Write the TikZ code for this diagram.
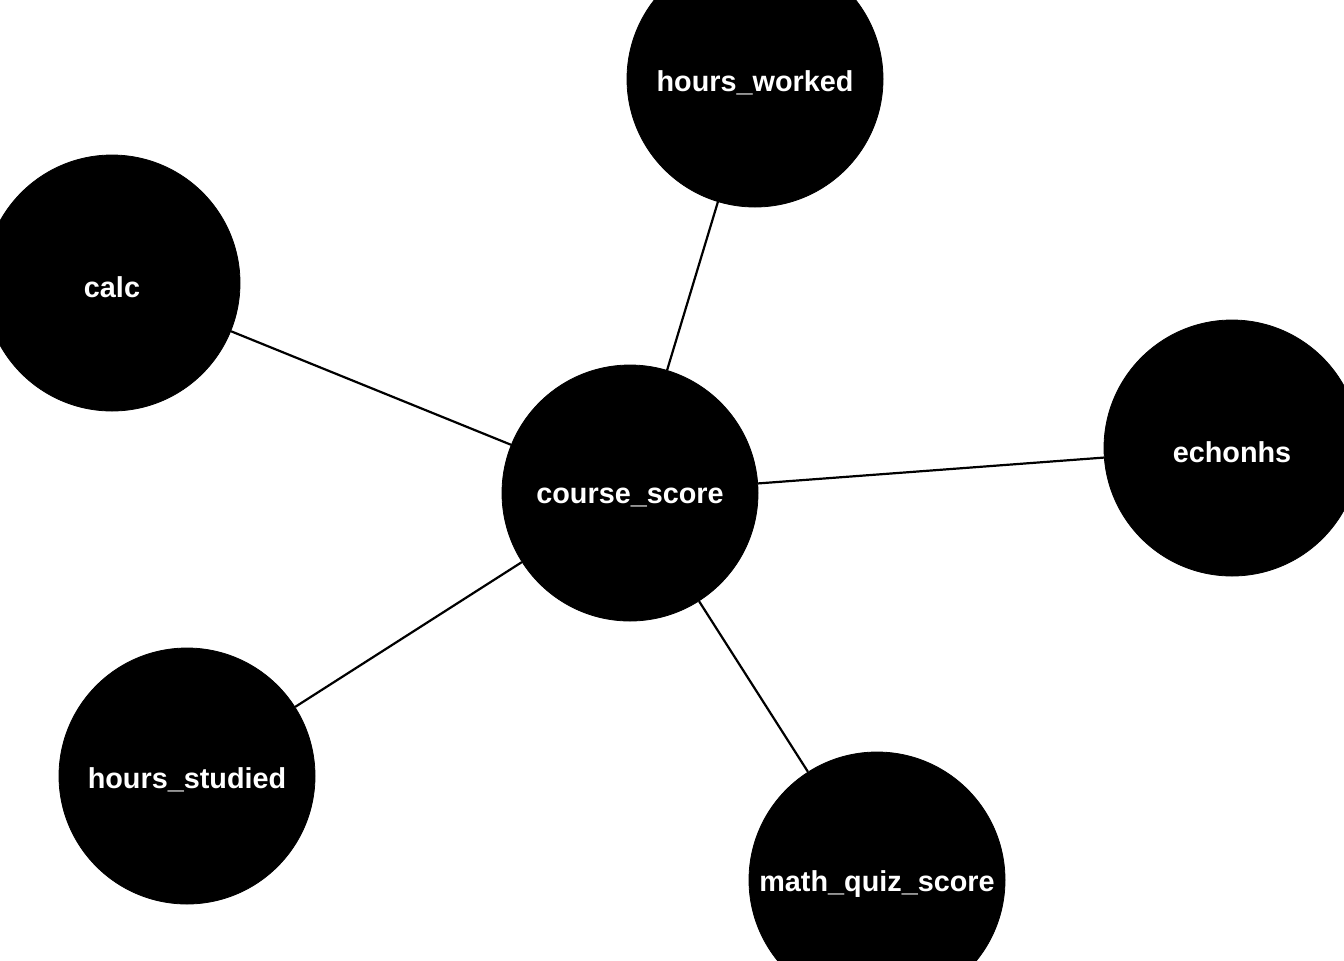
\documentclass[tikz,border=0pt]{standalone}
\usepackage{fontspec}
\setmainfont{Liberation Sans}
\begin{document}
\begin{tikzpicture}[x=0.5pt,y=-0.5pt,
  var/.style={circle,fill=black,draw=black,minimum size=128pt,inner sep=0pt},
  lbl/.style={text=white,inner sep=0pt,yshift=-2pt,font=\fontsize{14.4}{17}\selectfont\bfseries},
  edge/.style={draw=black,line width=1.1pt}]
\useasboundingbox (0,0) rectangle (1344,960);
\clip (0,0) rectangle (1344,960);
\node[var,label={[lbl]center:course\_score}] (cs) at (630,493) {};
\node[var,label={[lbl]center:hours\_worked}] (hw) at (755,79) {};
\node[var,label={[lbl]center:calc}] (calc) at (112,283) {};
\node[var,label={[lbl]center:echonhs}] (ech) at (1232,448) {};
\node[var,label={[lbl]center:hours\_studied}] (hs) at (187,776) {};
\node[var,label={[lbl]center:math\_quiz\_score}] (mq) at (877,880) {};
\draw[edge] (cs) -- (hw);
\draw[edge] (cs) -- (calc);
\draw[edge] (cs) -- (ech);
\draw[edge] (cs) -- (hs);
\draw[edge] (cs) -- (mq);
\end{tikzpicture}
\end{document}
